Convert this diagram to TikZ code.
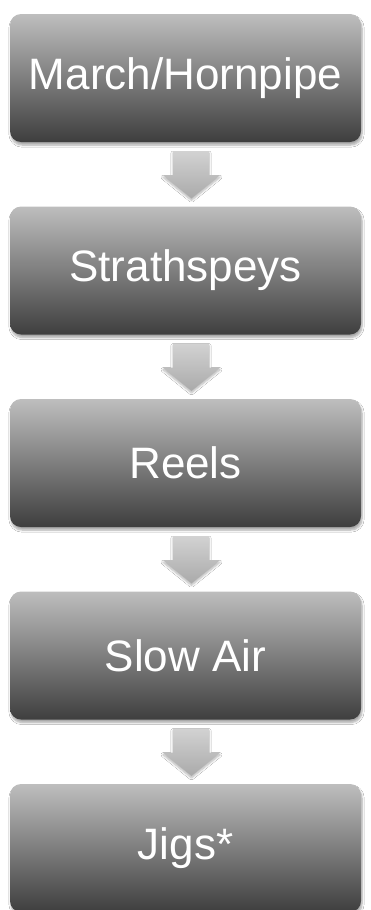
\documentclass[tikz,border=0pt]{standalone}
\usepackage{fontspec}
\setmainfont{Liberation Sans}
\usetikzlibrary{calc,shadows.blur}
\definecolor{boxtop}{RGB}{190,190,190}
\definecolor{boxmid}{RGB}{138,138,138}
\definecolor{boxbot}{RGB}{62,62,62}
\definecolor{arrtop}{RGB}{210,210,210}
\definecolor{arrbot}{RGB}{170,170,170}
\tikzset{
  stagebox/.style={rectangle, rounded corners=11pt, minimum width=351pt, minimum height=128pt,
    inner sep=0pt, top color=boxtop, middle color=boxmid, bottom color=boxbot,
    text=white, font=\fontsize{44}{48}\selectfont,
    blur shadow={shadow xshift=1pt, shadow yshift=-3pt, shadow blur steps=6, shadow opacity=35}},
  flowarrow/.style={top color=arrtop, bottom color=arrbot, draw=none,
    blur shadow={shadow xshift=0pt, shadow yshift=-2pt, shadow blur steps=6, shadow opacity=30}}
}
\begin{document}
\begin{tikzpicture}[x=1pt,y=1pt]
\useasboundingbox (0,0) rectangle (371,-910);
\fill[white] (0,0) rectangle (371,-910);
\node[stagebox] (b1) at (185.5,-78) {March/Hornpipe};
\node[stagebox] (b2) at (185.5,-270.5) {Strathspeys};
\node[stagebox] (b3) at (185.5,-463) {Reels};
\node[stagebox] (b4) at (185.5,-655.5) {Slow Air};
\node[stagebox] (b5) at (185.5,-848) {Jigs*};
\foreach \a/\b in {b1/b2,b2/b3,b3/b4,b4/b5}{
  \path[flowarrow] ($(\a.south)+(-12.5,-9)$) -- ($(\a.south)+(23.5,-9)$) -- ($(\a.south)+(23.5,-33)$)
    -- ($(\a.south)+(34.5,-33)$) -- ($(\b.north)+(6,8)$) -- ($(\a.south)+(-22.5,-33)$)
    -- ($(\a.south)+(-12.5,-33)$) -- cycle;
}
\end{tikzpicture}
\end{document}
